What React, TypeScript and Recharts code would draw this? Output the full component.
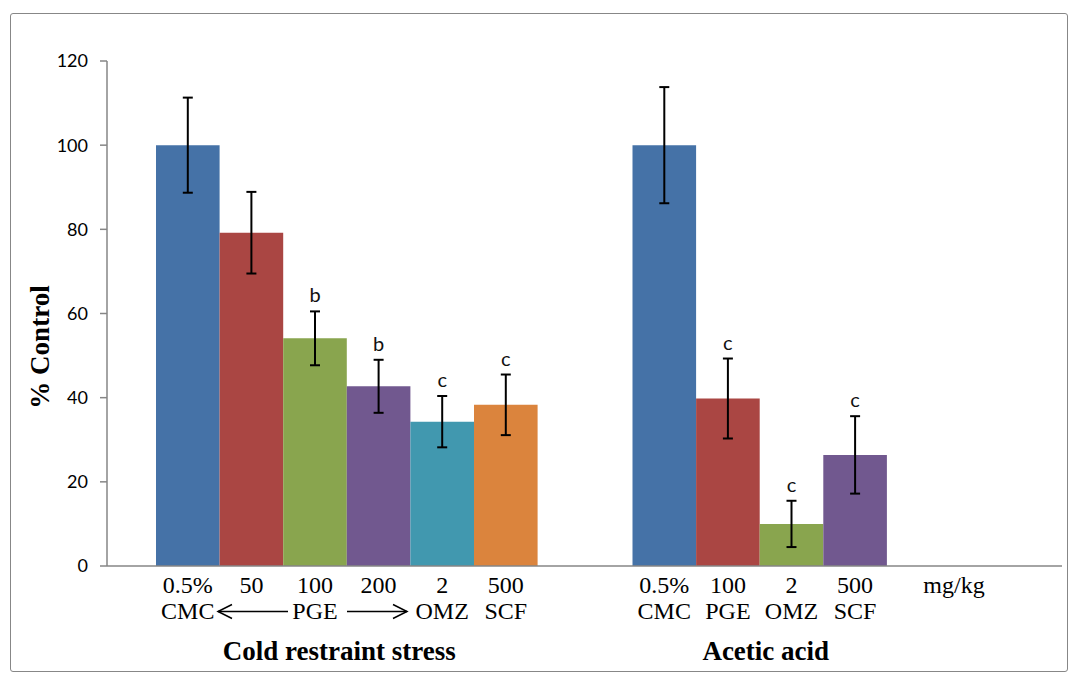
import React from "react";
import { BarChart, Bar, XAxis, YAxis, ErrorBar, LabelList } from "recharts";

// ---------- data ----------
const groups = ["Cold restraint stress", "Acetic acid"];

const coldValues = [100, 79.2, 54.1, 42.7, 34.3, 38.3];
const coldErrors = [11.3, 9.7, 6.4, 6.3, 6.1, 7.2];
const coldLetters = ["", "", "b", "b", "c", "c"];
const coldDoses = ["0.5%", "50", "100", "200", "2", "500"];
const coldDrugs = ["CMC", "", "PGE", "", "OMZ", "SCF"];

const aceticValues = [100, 39.8, 10.0, 26.4];
const aceticErrors = [13.8, 9.5, 5.5, 9.2];
const aceticLetters = ["", "c", "c", "c"];
const aceticDoses = ["0.5%", "100", "2", "500"];
const aceticDrugs = ["CMC", "PGE", "OMZ", "SCF"];

const yTicks = [0, 20, 40, 60, 80, 100, 120];
const unitLabel = "mg/kg";
const yTitle = "% Control";

const colors = ["#4572A7", "#AA4643", "#89A54E", "#71588F", "#4198AF", "#DB843D"];
const groupLabelShift = [-8, -58];

const SERIES = 6;

const table = [
  { values: coldValues, errors: coldErrors, letters: coldLetters, doses: coldDoses, drugs: coldDrugs },
  { values: aceticValues, errors: aceticErrors, letters: aceticLetters, doses: aceticDoses, drugs: aceticDrugs },
];

const data = groups.map((g, gi) => {
  const row: any = { group: g };
  const t = table[gi];
  for (let k = 0; k < SERIES; k++) {
    row[`s${k}`] = t.values[k] ?? null;
    row[`e${k}`] = t.errors[k] ?? null;
    row[`l${k}`] = t.letters[k] ?? "";
    row[`d${k}`] = t.doses[k] ?? "";
    row[`n${k}`] = t.drugs[k] ?? "";
  }
  return row;
});

const SERIF = "'Liberation Serif', 'Times New Roman', serif";
const SANS = "Lato, 'Liberation Sans', sans-serif";

const DoseLabel = (props: any) => {
  const { x, y, width, height, value } = props;
  if (!value) return null;
  return (
    <text x={Number(x) + Number(width) / 2} y={Number(y) + Number(height) + 27} textAnchor="middle"
      fontFamily={SERIF} fontSize={24} fill="#000">{value}</text>
  );
};

const makeDrugLabel = (k: number) => (props: any) => {
  const { x, y, width, height, value, index } = props;
  if (!value) return null;
  const cx = Number(x) + Number(width) / 2;
  const base = Number(y) + Number(height) + 53;
  const ay = base - 7.5;
  const arrows = index === 0 && k === 2;
  return (
    <g>
      <text x={cx} y={base} textAnchor="middle" fontFamily={SERIF} fontSize={24} fill="#000">{value}</text>
      {arrows && (
        <g stroke="#000" strokeWidth={1.5} fill="none">
          <line x1={cx - 97} y1={ay} x2={cx - 27} y2={ay} />
          <polyline points={`${cx - 83},${ay - 7} ${cx - 97},${ay} ${cx - 83},${ay + 7}`} />
          <line x1={cx + 32} y1={ay} x2={cx + 92} y2={ay} />
          <polyline points={`${cx + 78},${ay - 7} ${cx + 92},${ay} ${cx + 78},${ay + 7}`} />
        </g>
      )}
    </g>
  );
};

const makeLetterLabel = (k: number) => (props: any) => {
  const { x, y, width, height, value, index } = props;
  if (!value) return null;
  const row = data[index];
  const v = row[`s${k}`];
  const e = row[`e${k}`] || 0;
  const pxPerUnit = Number(height) / v;
  const errTop = Number(y) - e * pxPerUnit;
  return (
    <text x={Number(x) + Number(width) / 2} y={errTop - 9} textAnchor="middle"
      fontFamily={SANS} fontSize={20} fill="#111">{value}</text>
  );
};

const GroupTick = (props: any) => {
  const { x, payload, index } = props;
  return (
    <text x={Number(x) + (groupLabelShift[index] || 0)} y={660} textAnchor="middle"
      fontFamily={SERIF} fontWeight="bold" fontSize={27} fill="#000">{payload.value}</text>
  );
};

const UnitLabel = (props: any) => {
  const vb = props.viewBox || {};
  return (
    <text x={vb.x + vb.width - 108} y={vb.y + 27} textAnchor="middle"
      fontFamily={SERIF} fontSize={24} fill="#000">{unitLabel}</text>
  );
};

const YTitle = (props: any) => {
  const vb = props.viewBox || {};
  const cx = vb.x + 48.5;
  const cy = 347;
  return (
    <text x={cx} y={cy} transform={`rotate(-90, ${cx}, ${cy})`} textAnchor="middle"
      fontFamily={SERIF} fontWeight="bold" fontSize={27} fill="#000">{yTitle}</text>
  );
};

export default function App() {
  return (
    <div style={{ position: "absolute", left: 0, top: 0, width: 1073, height: 675, background: "#fff" }}>
      <div style={{ position: "absolute", left: 10, top: 13, width: 1056, height: 657, border: "1px solid #878787", borderRadius: 3 }} />
      <div style={{ position: "absolute", left: 0, top: 0 }}>
        <BarChart width={1073} height={675} data={data} margin={{ top: 61, right: 11, bottom: 0, left: 0 }}
          barGap={0} barSize={63.6}>
          <XAxis dataKey="group" height={109} padding={{ left: 2, right: 0 }} axisLine={{ stroke: "#868686", strokeWidth: 1.5 }}
            tickLine={false} tick={<GroupTick />} interval={0} label={<UnitLabel />} />
          <YAxis width={107} domain={[0, 120]} ticks={yTicks} interval={0} axisLine={{ stroke: "#868686", strokeWidth: 1.5 }}
            tickLine={{ stroke: "#868686", strokeWidth: 1.5 }} tickSize={7} tickMargin={12}
            tick={{ fill: "#000", fontSize: 18, fontFamily: SANS }} label={<YTitle />} />
          {colors.map((c, k) => (
            <Bar key={k} dataKey={`s${k}`} fill={c} isAnimationActive={false}>
              <ErrorBar dataKey={`e${k}`} width={5} stroke="#000" strokeWidth={2} />
              <LabelList dataKey={`l${k}`} content={makeLetterLabel(k)} />
              <LabelList dataKey={`d${k}`} content={DoseLabel} />
              <LabelList dataKey={`n${k}`} content={makeDrugLabel(k)} />
            </Bar>
          ))}
        </BarChart>
      </div>
    </div>
  );
}
